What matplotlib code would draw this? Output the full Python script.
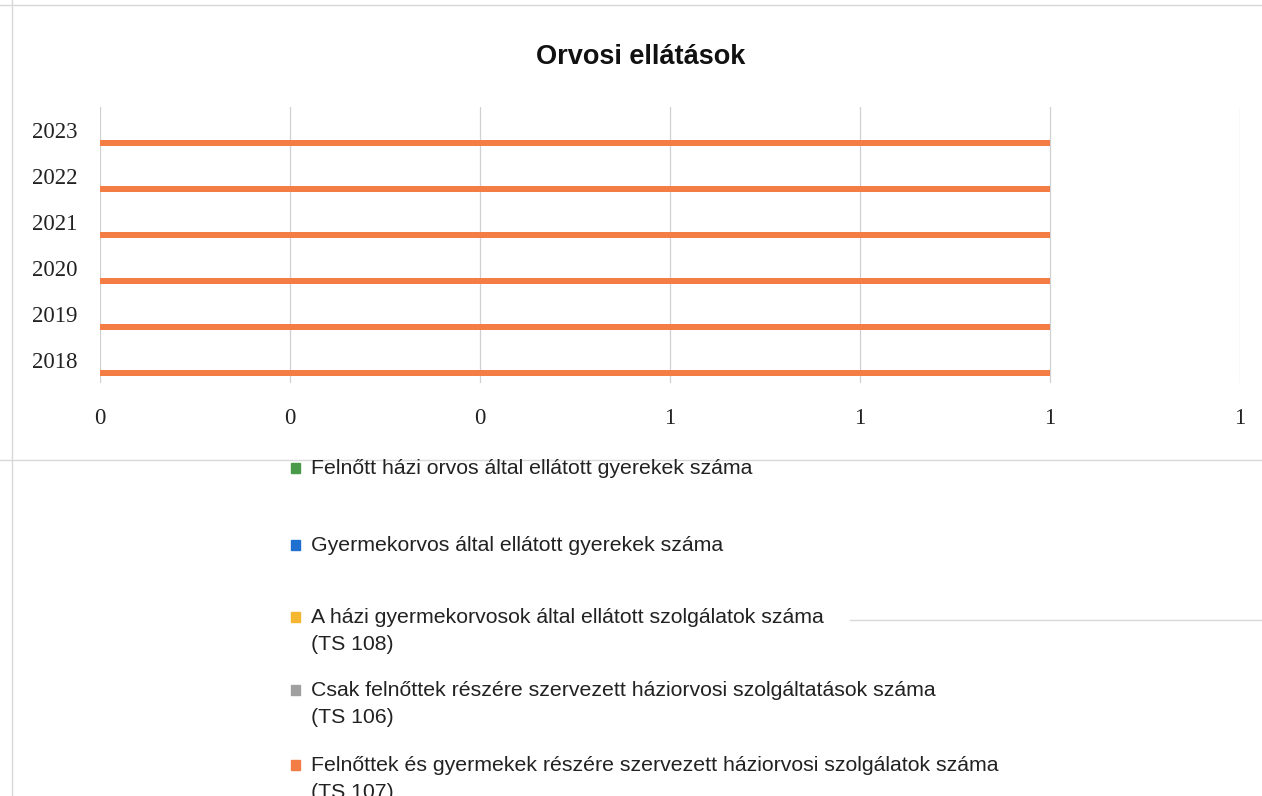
import numpy as np
import matplotlib
matplotlib.use("Agg")
from matplotlib import pyplot as plt
from matplotlib.ticker import FuncFormatter, MultipleLocator
from matplotlib.patches import Rectangle
from matplotlib.lines import Line2D

years = ["2018", "2019", "2020", "2021", "2022", "2023"]
series_names = [
    "Felnőtt házi orvos által ellátott gyerekek száma",
    "Gyermekorvos által ellátott gyerekek száma",
    "A házi gyermekorvosok által ellátott szolgálatok száma\n(TS 108)",
    "Csak felnőttek részére szervezett háziorvosi szolgáltatások száma\n(TS 106)",
    "Felnőttek és gyermekek részére szervezett háziorvosi szolgálatok száma\n(TS 107)",
]
felnott_hazi = [0, 0, 0, 0, 0, 0]
gyermekorvos = [0, 0, 0, 0, 0, 0]
ts108 = [0, 0, 0, 0, 0, 0]
ts106 = [0, 0, 0, 0, 0, 0]
ts107 = [1, 1, 1, 1, 1, 1]
colors = ["#4a9a4a", "#1f6fd0", "#f5b731", "#a0a0a0", "#f47d45"]

series = [felnott_hazi, gyermekorvos, ts108, ts106, ts107]

sans = ["Liberation Sans Narrow", "Liberation Sans", "DejaVu Sans"]
serif = ["Liberation Serif", "DejaVu Serif"]

fig = plt.figure(figsize=(12.62, 7.96), dpi=100)
ax = fig.add_axes([100 / 1262, 1 - 383 / 796, 1140 / 1262, 276 / 796])

y = np.arange(len(years))
h = 0.14
# series 1 on top of the cluster, last series at the bottom
for i, vals in enumerate(series):
    off = (2 - i) * h
    ax.barh(y + off, vals, height=h, color=colors[i], label=series_names[i])

ax.set_xlim(0, 1.2)
ax.set_ylim(-0.5, len(years) - 0.5)
ax.xaxis.set_major_locator(MultipleLocator(0.2))
ax.xaxis.set_major_formatter(FuncFormatter(lambda v, p: "%.0f" % v))
ax.set_yticks(y)
ax.set_yticklabels(years)
ax.grid(axis="x", color="#d0d0d0", linewidth=0.9)
ax.set_axisbelow(True)
for s in ax.spines.values():
    s.set_visible(False)
ax.tick_params(axis="both", length=0, labelsize=16.5, colors="#222222")
ax.tick_params(axis="x", pad=18)
ax.tick_params(axis="y", pad=16.5)
for lab in ax.get_xticklabels() + ax.get_yticklabels():
    lab.set_family(serif)

fig.text(641 / 1262, 1 - 57 / 796, "Orvosi ellátások", ha="center", va="center",
         fontsize=19.5, fontweight="bold", family=sans, color="#111111")

# legend, placed like the original
legend_y = [468, 545, 617, 690, 765]
for i, name in enumerate(series_names):
    yy = 1 - legend_y[i] / 796
    fig.patches.append(Rectangle((291 / 1262, yy - 5 / 796), 9 / 1262, 10 / 796,
                                 transform=fig.transFigure, color=colors[i]))
    fig.text(311 / 1262, yy + 9 / 796, name, ha="left", va="top", fontsize=15.3,
             family=sans, color="#222222", linespacing=1.55)

# faint page/table border lines from the scanned document
lc = "#d8d8d8"
fig.lines.append(Line2D([0, 1], [1 - 5 / 796, 1 - 5 / 796], transform=fig.transFigure, color=lc, lw=1))
fig.lines.append(Line2D([12 / 1262, 12 / 1262], [0, 1], transform=fig.transFigure, color=lc, lw=1))
fig.lines.append(Line2D([0, 1], [1 - 460 / 796, 1 - 460 / 796], transform=fig.transFigure, color=lc, lw=1, zorder=0))
fig.lines.append(Line2D([850 / 1262, 1], [1 - 620 / 796, 1 - 620 / 796], transform=fig.transFigure, color=lc, lw=1, zorder=0))

fig.savefig("out.png", dpi=100)
